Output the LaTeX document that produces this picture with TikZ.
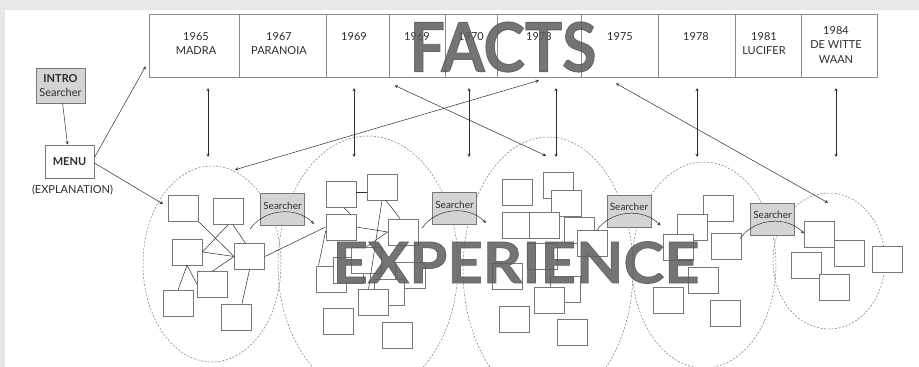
\documentclass[tikz,border=0pt]{standalone}
\usepackage{fontspec}
\setmainfont{Lato}
\newfontfamily\heavyfont{Lato}[BoldFeatures={FakeBold=1.3}]
\usetikzlibrary{shapes.geometric}

\definecolor{pagebg}{RGB}{230,231,233}
\definecolor{cellgray}{RGB}{140,140,140}
\definecolor{cardgray}{RGB}{120,120,120}
\definecolor{ellgray}{RGB}{120,120,120}
\definecolor{srchfill}{RGB}{212,212,212}
\definecolor{inkgray}{RGB}{45,45,45}
\definecolor{wordgray}{RGB}{92,92,92}

\begin{document}
\begin{tikzpicture}[x=1pt,y=-1pt,>=stealth,
  yearcell/.style={draw=cellgray,line width=0.8pt,minimum height=63,inner sep=0},
  yr/.style={anchor=north,align=center,inner sep=0,text=inkgray,font=\fontsize{11}{14.5}\selectfont},
  card/.style={draw=cardgray,fill=white,line width=0.75pt,minimum width=30,minimum height=26,inner sep=0},
  ell/.style={ellipse,draw=ellgray,line width=0.5pt,dash pattern=on 2pt off 1.6pt,inner sep=0},
  srch/.style={draw=cardgray,fill=srchfill,line width=0.8pt,minimum width=44,minimum height=32,inner sep=0,
    text height=7.5pt,text depth=8.5pt,text=inkgray,font=\fontsize{10}{12}\selectfont},
  link/.style={draw=inkgray,line width=0.5pt},
  bigword/.style={text=wordgray,text opacity=0.85,inner sep=0,transform shape}]

  \useasboundingbox (0,0) rectangle (919,367);
  \clip (0,0) rectangle (919,367);
  \fill[pagebg] (0,0) rectangle (919,367);
  \fill[white] (5,10) rectangle (919,367);

  % clouds of experience
  \node[ell,minimum width=138,minimum height=196] (e1) at (212,264) {};
  \node[ell,minimum width=180,minimum height=258] (e2) at (368,265) {};
  \node[ell,minimum width=170,minimum height=266] (e3) at (548,270) {};
  \node[ell,minimum width=144,minimum height=206] (e4) at (704,265) {};
  \node[ell,minimum width=112,minimum height=136] (e5) at (829,261) {};

  % little cards in each cloud
  \foreach \n/\x/\y in {c1a/183.5/208.5, c1b/228/211.5, c1c/187/252, c1d/249.5/256.5,
      c1e/212.5/284.5, c1f/178/303.5, c1g/236/317,
      c2a/341/194.5, c2b/382/187, c2c/341/227, c2d/403/232, c2e/331.5/279, c2f/348.5/270,
      c2g/366.5/260, c2h/410.5/275, c2i/389/292, c2j/373.5/302.5, c2k/338/321, c2l/397/335,
      c3a/517/192.5, c3b/558/185, c3c/566.5/203.5, c3d/517/225, c3e/544.5/225, c3f/579.5/230,
      c3g/592.5/243.5, c3h/542.5/256.5, c3i/507.5/276.5, c3j/565.5/289.5, c3k/549.5/300,
      c3l/514.5/319.5, c3m/572/332,
      c4a/718.5/208, c4b/692.5/227.5, c4c/678/247.5, c4d/726.5/246, c4e/703/280,
      c4f/668/300, c4g/725.5/313,
      c5a/819.5/234, c5b/849/253, c5c/806.5/265, c5d/834/287.5, c5e/887.5/259.5}
    \node[card] (\n) at (\x,\y) {};

  % links inside the first two clouds
  \draw[link] (c1a.south east) -- (c1d.west);
  \draw[link] (c1b.south) -- (c1c.east);
  \draw[link] ([xshift=5pt]c1b.south) -- ([xshift=-4pt]c1d.north);
  \draw[link] (c1c.east) -- (c1d.west);
  \draw[link] (c1e.north) -- (c1d.west);
  \draw[link] (c1c.south) -- (c1f.north);
  \draw[link] (c1c.south) -- (c1e.west);
  \draw[link] (c1d.south) -- ([xshift=6pt]c1g.north);
  \draw[link] (c1d.east) -- (c2c.west);
  \draw[link] ([yshift=2pt]c2a.east) -- ([yshift=2pt]c2a.east -| c2b.west);
  \draw[link] ([xshift=3pt]c2a.south) -- ([xshift=9pt]c2c.north);
  \draw[link] (c2b.south) -- ([xshift=-5pt]c2j.north);
  \draw[link] ([xshift=4pt]c2b.south) -- ([xshift=-3pt]c2d.north);
  \draw[link] (c2c.east) -- (c2d.west);
  \draw[link] ([yshift=-4pt]c2c.west) -- ([xshift=-13pt]c2e.north);
  \draw[link] (c2d.west) -- (c2g.north);

  % time line of facts
  \foreach \n/\l/\r in {c65/149/239, c67/239/326, c69a/326/389, c69b/389/445, c70/445/497,
      c73/497/581, c75/581/658, c78/658/735, c81/735/801, c84/801/877}
    \node[yearcell,minimum width={\r-\l}] (\n) at ({(\l+\r)/2},45.5) {};
  \node[yr] (l65) at (196,32) {1965\\MADRA};
  \node[yr] (l67) at (279,32) {1967\\PARANOIA};
  \node[yr] (l69a) at (354,32) {1969};
  \node[yr] (l69b) at (417,32) {1969};
  \node[yr] (l70) at (471,32) {1970};
  \node[yr] (l73) at (539,32) {1973};
  \node[yr] (l75) at (620,32) {1975};
  \node[yr] (l78) at (696,32) {1978};
  \node[yr] (l81) at (764,32) {1981\\LUCIFER};
  \node[yr] (l84) at (836,26) {1984\\DE WITTE\\WAAN};

  % entry
  \node[draw=cardgray,fill=srchfill,line width=0.8pt,minimum width=49,minimum height=35,inner sep=0,
    align=center,text=inkgray,font=\fontsize{11}{14.5}\selectfont] (intro) at (60.5,85.5) {\textbf{INTRO}\\Searcher};
  \node[draw=cardgray,line width=0.8pt,minimum width=49,minimum height=33,inner sep=0,
    text=inkgray,font=\bfseries\fontsize{11}{13}\selectfont] (menu) at (69.5,161.5) {MENU};
  \node[text=inkgray,inner sep=0,font=\fontsize{11}{13}\selectfont] (expl) at (72.5,190) {(EXPLANATION)};
  \coordinate (e1tip) at (163,204);
  \draw[link,->] (intro) -- (menu);
  \draw[link,->] ([yshift=4pt]menu.east) -- ([xshift=-3pt,yshift=11pt]c65.south west);
  \draw[link,->] ([yshift=-1.5pt]menu.east) -- (e1tip);

  % facts <-> experience
  \foreach \x [count=\i] in {208,354,469,556,697,836} {
    \coordinate (up\i) at (\x,88);
    \coordinate (dn\i) at (\x,157);
    \draw[link,<->] (up\i) -- (dn\i);
  }
  \draw[link,<->] ([xshift=23pt,yshift=-4pt]e1.north) -- ([yshift=-3pt]c73.south);
  \draw[link,<->] ([xshift=6pt,yshift=-8pt]c69b.south west) -- ([xshift=-2pt,yshift=-19pt]e3.north);
  \draw[link,<->] ([xshift=-3.5pt,yshift=-6pt]c75.south) -- ([xshift=-1pt,yshift=-10pt]e5.north);

  % searchers between clouds
  \foreach \n/\x/\y in {s1/282.5/209.5, s2/454.5/208.5, s3/629/211, s4/772.5/219} {
    \node[srch] (\n) at (\x,\y) {Searcher};
    \draw[link,->] ([xshift=-10pt,yshift=-3pt]\n.south west) to[bend left=50] ([xshift=9pt,yshift=2pt]\n.south east);
  }

  % big words
  \node[bigword,xscale=0.92,font=\heavyfont\bfseries\fontsize{68}{68}\selectfont] (facts) at (503,47) {FACTS};
  \node[bigword,xscale=1.08,font=\heavyfont\bfseries\fontsize{57}{57}\selectfont] (exper) at (516,262.5) {EXPERIENCE};
\end{tikzpicture}
\end{document}
